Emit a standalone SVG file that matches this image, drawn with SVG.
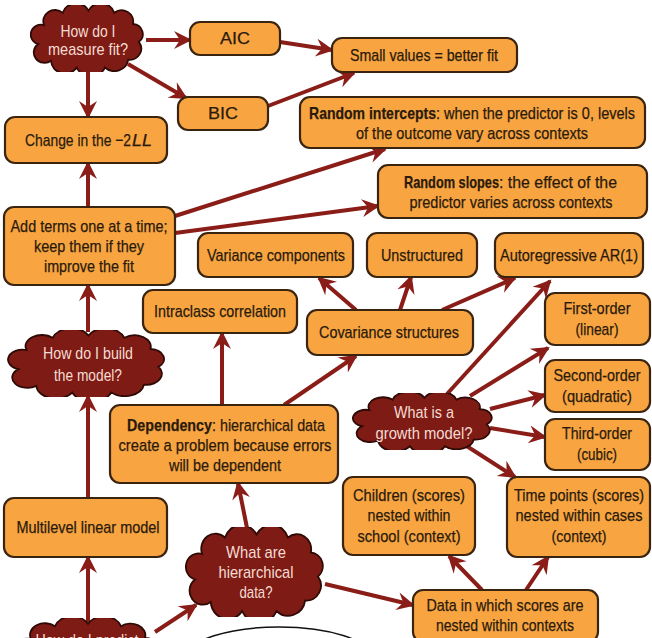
<svg xmlns="http://www.w3.org/2000/svg" xmlns:xlink="http://www.w3.org/1999/xlink" width="652" height="638" viewBox="0 0 652 638">
  <style>
    .box { fill: #F8A541; stroke: #3a2410; stroke-width: 2.2; }
    .cloud { fill: #7E1B15; stroke: #2e0a06; stroke-width: 1.8; }
    .t { font-family: "Liberation Sans", Arial, sans-serif; font-size: 17px; fill: #2a1a0c; stroke: #2a1a0c; stroke-width: 0.25; text-anchor: middle; }
    .s { text-anchor: start; }
    .ct { font-family: "Liberation Sans", Arial, sans-serif; font-size: 17px; fill: #f5dcd2; text-anchor: middle; }
    .b { font-weight: bold; }
    .edge { stroke: #8A1D18; stroke-width: 4; fill: none; marker-end: url(#arrow); }
  </style>
  <defs>
    <marker id="arrow" markerUnits="userSpaceOnUse" markerWidth="20" markerHeight="20" viewBox="0 0 20 20" refX="17" refY="10" orient="auto">
      <path d="M1,1 L19,10 L1,19 L7,10 Z" fill="#8A1D18"/>
    </marker>
    <symbol id="cloudShape" viewBox="0 0 100 60" preserveAspectRatio="none">
      <path class="cloud" vector-effect="non-scaling-stroke" d="M12,18 A10,10 0 0 1 28,7 A12,12 0 0 1 50,5 A12,12 0 0 1 72,7 A10,10 0 0 1 88,17 A9,9 0 0 1 93,33 A10,10 0 0 1 84,49 A12,12 0 0 1 64,56 A13,13 0 0 1 40,56 A12,12 0 0 1 18,50 A9,9 0 0 1 7,35 A8,8 0 0 1 12,18 Z"/>
    </symbol>
  </defs>
  <rect width="652" height="638" fill="#ffffff"/>

  <!-- connectors -->
  <g id="connectors">
    <line class="edge" x1="146" y1="40" x2="190" y2="40"/>
    <line class="edge" x1="128" y1="64" x2="186" y2="98"/>
    <line class="edge" x1="88" y1="70" x2="88" y2="117"/>
    <line class="edge" x1="280" y1="42" x2="332" y2="50"/>
    <line class="edge" x1="268" y1="106" x2="354" y2="73"/>
    <line class="edge" x1="88" y1="207" x2="88" y2="163"/>
    <line class="edge" x1="175" y1="216" x2="385" y2="149"/>
    <line class="edge" x1="175" y1="233" x2="378" y2="206"/>
    <line class="edge" x1="88" y1="332" x2="88" y2="285"/>
    <line class="edge" x1="88" y1="498" x2="88" y2="396"/>
    <line class="edge" x1="88" y1="622" x2="88" y2="557"/>
    <line class="edge" x1="155" y1="632" x2="196" y2="605"/>
    <line class="edge" x1="247" y1="528" x2="238" y2="483"/>
    <line class="edge" x1="325" y1="584" x2="413" y2="605"/>
    <line class="edge" x1="482" y1="590" x2="449" y2="556"/>
    <line class="edge" x1="526" y1="590" x2="548" y2="557"/>
    <line class="edge" x1="222" y1="405" x2="222" y2="333"/>
    <line class="edge" x1="284" y1="405" x2="356" y2="356"/>
    <line class="edge" x1="356" y1="310" x2="319" y2="278"/>
    <line class="edge" x1="400" y1="310" x2="411" y2="277"/>
    <line class="edge" x1="442" y1="310" x2="515" y2="278"/>
    <line class="edge" x1="447" y1="394" x2="550" y2="281"/>
    <line class="edge" x1="470" y1="396" x2="548" y2="348"/>
    <line class="edge" x1="490" y1="409" x2="545" y2="395"/>
    <line class="edge" x1="490" y1="428" x2="545" y2="437"/>
    <line class="edge" x1="465" y1="445" x2="515" y2="477"/>
  </g>

  <!-- question clouds -->
  <g id="measure-fit">
    <use xlink:href="#cloudShape" href="#cloudShape" x="30" y="5" width="117" height="67"/>
    <text class="ct" x="88" y="37" textLength="55" lengthAdjust="spacingAndGlyphs">How do I</text>
    <text class="ct" x="88" y="55" textLength="80" lengthAdjust="spacingAndGlyphs">measure fit?</text>
  </g>
  <g id="build-model">
    <use xlink:href="#cloudShape" href="#cloudShape" x="7" y="330" width="163" height="67"/>
    <text class="ct" x="88" y="359" textLength="90" lengthAdjust="spacingAndGlyphs">How do I build</text>
    <text class="ct" x="88" y="381" textLength="68" lengthAdjust="spacingAndGlyphs">the model?</text>
  </g>
  <g id="growth-model">
    <use xlink:href="#cloudShape" href="#cloudShape" x="352" y="393" width="145" height="57"/>
    <text class="ct" x="424" y="418" textLength="60" lengthAdjust="spacingAndGlyphs">What is a</text>
    <text class="ct" x="424" y="439" textLength="97" lengthAdjust="spacingAndGlyphs">growth model?</text>
  </g>
  <g id="hierarchical-data">
    <use xlink:href="#cloudShape" href="#cloudShape" x="185" y="527" width="143" height="90"/>
    <text class="ct" x="256" y="558" textLength="60" lengthAdjust="spacingAndGlyphs">What are</text>
    <text class="ct" x="256" y="578" textLength="75" lengthAdjust="spacingAndGlyphs">hierarchical</text>
    <text class="ct" x="256" y="598" textLength="33" lengthAdjust="spacingAndGlyphs">data?</text>
  </g>
  <g id="predict">
    <use xlink:href="#cloudShape" href="#cloudShape" x="13" y="618" width="150" height="70"/>
    <text class="ct" x="87" y="646" textLength="103" lengthAdjust="spacingAndGlyphs">How do I predict</text>
  </g>
  <g id="outline-shape">
    <ellipse cx="279" cy="657" rx="92" ry="30" fill="#ffffff" stroke="#111111" stroke-width="1.5"/>
  </g>

  <!-- boxes -->
  <g id="aic">
    <rect class="box" x="190" y="22" width="90" height="33" rx="10"/>
    <text class="t" x="235" y="44" textLength="30" lengthAdjust="spacingAndGlyphs">AIC</text>
  </g>
  <g id="bic">
    <rect class="box" x="178" y="97" width="90" height="33" rx="10"/>
    <text class="t" x="223" y="119" textLength="30" lengthAdjust="spacingAndGlyphs">BIC</text>
  </g>
  <g id="change-2ll">
    <rect class="box" x="5" y="117" width="162" height="46" rx="10"/>
    <text class="t s" x="25" y="146" textLength="106" lengthAdjust="spacingAndGlyphs">Change in the −2</text>
    <text class="t s" x="132" y="146" font-style="italic" textLength="20" lengthAdjust="spacingAndGlyphs">LL</text>
  </g>
  <g id="small-values">
    <rect class="box" x="332" y="38" width="185" height="34" rx="10"/>
    <text class="t" x="424" y="61" textLength="148" lengthAdjust="spacingAndGlyphs">Small values = better fit</text>
  </g>
  <g id="random-intercepts">
    <rect class="box" x="300" y="97" width="345" height="51" rx="10"/>
    <text class="t s b" x="309" y="119" textLength="127" lengthAdjust="spacingAndGlyphs">Random intercepts</text>
    <text class="t s" x="436" y="119" textLength="199" lengthAdjust="spacingAndGlyphs">: when the predictor is 0, levels</text>
    <text class="t" x="472" y="139" textLength="232" lengthAdjust="spacingAndGlyphs">of the outcome vary across contexts</text>
  </g>
  <g id="random-slopes">
    <rect class="box" x="378" y="165" width="269" height="53" rx="10"/>
    <text class="t s b" x="404" y="188" textLength="95" lengthAdjust="spacingAndGlyphs">Random slopes</text>
    <text class="t s" x="499" y="188" textLength="118" lengthAdjust="spacingAndGlyphs">: the effect of the</text>
    <text class="t" x="511" y="208" textLength="203" lengthAdjust="spacingAndGlyphs">predictor varies across contexts</text>
  </g>
  <g id="add-terms">
    <rect class="box" x="4" y="207" width="171" height="78" rx="10"/>
    <text class="t" x="89" y="232" textLength="157" lengthAdjust="spacingAndGlyphs">Add terms one at a time;</text>
    <text class="t" x="89" y="252" textLength="110" lengthAdjust="spacingAndGlyphs">keep them if they</text>
    <text class="t" x="89" y="272" textLength="90" lengthAdjust="spacingAndGlyphs">improve the fit</text>
  </g>
  <g id="variance-components">
    <rect class="box" x="198" y="233" width="155" height="44" rx="10"/>
    <text class="t" x="276" y="261" textLength="138" lengthAdjust="spacingAndGlyphs">Variance components</text>
  </g>
  <g id="unstructured">
    <rect class="box" x="367" y="233" width="110" height="44" rx="10"/>
    <text class="t" x="422" y="261" textLength="82" lengthAdjust="spacingAndGlyphs">Unstructured</text>
  </g>
  <g id="ar1">
    <rect class="box" x="495" y="233" width="148" height="44" rx="10"/>
    <text class="t" x="569" y="261" textLength="138" lengthAdjust="spacingAndGlyphs">Autoregressive AR(1)</text>
  </g>
  <g id="intraclass">
    <rect class="box" x="143" y="290" width="154" height="43" rx="10"/>
    <text class="t" x="220" y="317" textLength="132" lengthAdjust="spacingAndGlyphs">Intraclass correlation</text>
  </g>
  <g id="covariance">
    <rect class="box" x="307" y="310" width="166" height="45" rx="10"/>
    <text class="t" x="389" y="338" textLength="140" lengthAdjust="spacingAndGlyphs">Covariance structures</text>
  </g>
  <g id="first-order">
    <rect class="box" x="545" y="293" width="105" height="52" rx="10"/>
    <text class="t" x="597" y="314" textLength="67" lengthAdjust="spacingAndGlyphs">First-order</text>
    <text class="t" x="597" y="335" textLength="43" lengthAdjust="spacingAndGlyphs">(linear)</text>
  </g>
  <g id="second-order">
    <rect class="box" x="545" y="360" width="105" height="52" rx="10"/>
    <text class="t" x="597" y="381" textLength="87" lengthAdjust="spacingAndGlyphs">Second-order</text>
    <text class="t" x="597" y="402" textLength="70" lengthAdjust="spacingAndGlyphs">(quadratic)</text>
  </g>
  <g id="third-order">
    <rect class="box" x="545" y="419" width="105" height="51" rx="10"/>
    <text class="t" x="597" y="439" textLength="70" lengthAdjust="spacingAndGlyphs">Third-order</text>
    <text class="t" x="597" y="460" textLength="40" lengthAdjust="spacingAndGlyphs">(cubic)</text>
  </g>
  <g id="dependency">
    <rect class="box" x="110" y="405" width="228" height="78" rx="10"/>
    <text class="t s b" x="127" y="431" textLength="85" lengthAdjust="spacingAndGlyphs">Dependency</text>
    <text class="t s" x="212" y="431" textLength="113" lengthAdjust="spacingAndGlyphs">: hierarchical data</text>
    <text class="t" x="225" y="451" textLength="213" lengthAdjust="spacingAndGlyphs">create a problem because errors</text>
    <text class="t" x="225" y="471" textLength="112" lengthAdjust="spacingAndGlyphs">will be dependent</text>
  </g>
  <g id="multilevel">
    <rect class="box" x="4" y="498" width="163" height="59" rx="10"/>
    <text class="t" x="88" y="533" textLength="143" lengthAdjust="spacingAndGlyphs">Multilevel linear model</text>
  </g>
  <g id="children">
    <rect class="box" x="343" y="477" width="132" height="78" rx="10"/>
    <text class="t" x="409" y="501" textLength="112" lengthAdjust="spacingAndGlyphs">Children (scores)</text>
    <text class="t" x="409" y="521" textLength="83" lengthAdjust="spacingAndGlyphs">nested within</text>
    <text class="t" x="409" y="542" textLength="103" lengthAdjust="spacingAndGlyphs">school (context)</text>
  </g>
  <g id="time-points">
    <rect class="box" x="507" y="477" width="143" height="80" rx="10"/>
    <text class="t" x="579" y="501" textLength="130" lengthAdjust="spacingAndGlyphs">Time points (scores)</text>
    <text class="t" x="579" y="521" textLength="127" lengthAdjust="spacingAndGlyphs">nested within cases</text>
    <text class="t" x="579" y="542" textLength="55" lengthAdjust="spacingAndGlyphs">(context)</text>
  </g>
  <g id="data-in-contexts">
    <rect class="box" x="413" y="590" width="185" height="52" rx="10"/>
    <text class="t" x="505" y="611" textLength="157" lengthAdjust="spacingAndGlyphs">Data in which scores are</text>
    <text class="t" x="505" y="631" textLength="138" lengthAdjust="spacingAndGlyphs">nested within contexts</text>
  </g>
</svg>
